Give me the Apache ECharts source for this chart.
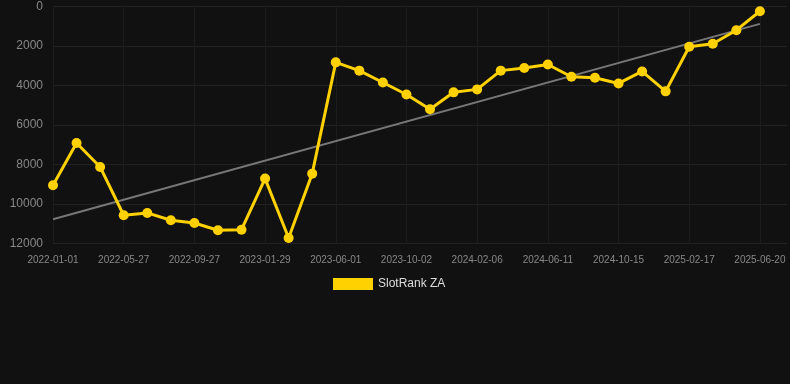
<!DOCTYPE html>
<html>
<head>
<meta charset="utf-8">
<script src="https://cdn.jsdelivr.net/npm/echarts@6/dist/echarts.min.js"></script>
<style>
    html, body { margin: 0; padding: 0; background: #111; }
    #chart { width: 790px; height: 384px; }
</style>
</head>
<body>
<div id="chart"></div>
<script>
// dates of each sample (only every third one is labelled)
var categories = [
    '2022-01-01', '2022-02-18', '2022-04-08', '2022-05-27', '2022-07-07', '2022-08-17',
    '2022-09-27', '2022-11-07', '2022-12-18', '2023-01-29', '2023-03-08', '2023-04-20',
    '2023-06-01', '2023-07-12', '2023-08-22', '2023-10-02', '2023-11-13', '2023-12-25',
    '2024-02-06', '2024-03-18', '2024-04-30', '2024-06-11', '2024-07-23', '2024-09-03',
    '2024-10-15', '2024-11-26', '2025-01-06', '2025-02-17', '2025-03-28', '2025-05-09',
    '2025-06-20'
];
var rankValues = [
    9060, 6920, 8130, 10580, 10460, 10830, 10970, 11340, 11310, 8720, 11730, 8470,
    2830, 3250, 3850, 4460, 5210, 4350, 4200, 3250, 3120, 2940, 3560, 3610,
    3900, 3290, 4300, 2040, 1890, 1200, 240
];
// trend line end points (first and last sample)
var trendValues = [10780, 880];
var yTicks = [0, 2000, 4000, 6000, 8000, 10000, 12000];

var seriesName = 'SlotRank ZA';

var myChart = echarts.init(document.getElementById('chart'));

var lineData = rankValues.map(function (v, i) { return [i, v]; });
var trendData = [[0, trendValues[0]], [categories.length - 1, trendValues[1]]];

// one colour per vertical grid line, the last one (right edge) hidden
var vLineColors = [];
for (var i = 0; i < categories.length; i += 3) vLineColors.push('#1c1c1c');
vLineColors.push('rgba(0,0,0,0)');

var option = {
    backgroundColor: '#111',
    animation: false,
    grid: {
        left: 53,
        right: 0,
        top: 6.5,
        bottom: 140.7
    },
    legend: {
        data: [seriesName],
        left: 328,
        top: 273,
        icon: 'rect',
        itemWidth: 40,
        itemHeight: 12,
        itemGap: 10,
        textStyle: { color: '#ddd', fontSize: 12, fontFamily: 'Liberation Sans, Arial, sans-serif' }
    },
    xAxis: {
        type: 'value',
        min: 0,
        max: 31.15,
        interval: 3,
        axisLine: { show: false },
        axisTick: { show: false },
        axisLabel: {
            color: '#888',
            fontSize: 10,
            margin: 12,
            fontFamily: 'Liberation Sans, Arial, sans-serif',
            formatter: function (value) {
                return categories[value] || '';
            }
        },
        splitLine: { show: true, lineStyle: { color: vLineColors, width: 1 } }
    },
    yAxis: {
        type: 'value',
        inverse: true,
        min: yTicks[0],
        max: yTicks[yTicks.length - 1],
        interval: 2000,
        axisLine: { show: false },
        axisTick: { show: false },
        axisLabel: {
            color: '#888',
            fontSize: 12,
            margin: 10,
            fontFamily: 'Liberation Sans, Arial, sans-serif',
            formatter: function (value) { return String(value); }
        },
        splitLine: { lineStyle: { color: '#222', width: 1 } }
    },
    series: [
        {
            name: 'trend',
            type: 'line',
            data: trendData,
            symbol: 'none',
            silent: true,
            lineStyle: { color: '#777', width: 2 },
            z: 1
        },
        {
            name: seriesName,
            type: 'line',
            data: lineData,
            symbol: 'circle',
            symbolSize: 10,
            itemStyle: { color: '#FFD100' },
            lineStyle: { color: '#FFD100', width: 3 },
            z: 2
        }
    ]
};

myChart.setOption(option);
</script>
</body>
</html>
